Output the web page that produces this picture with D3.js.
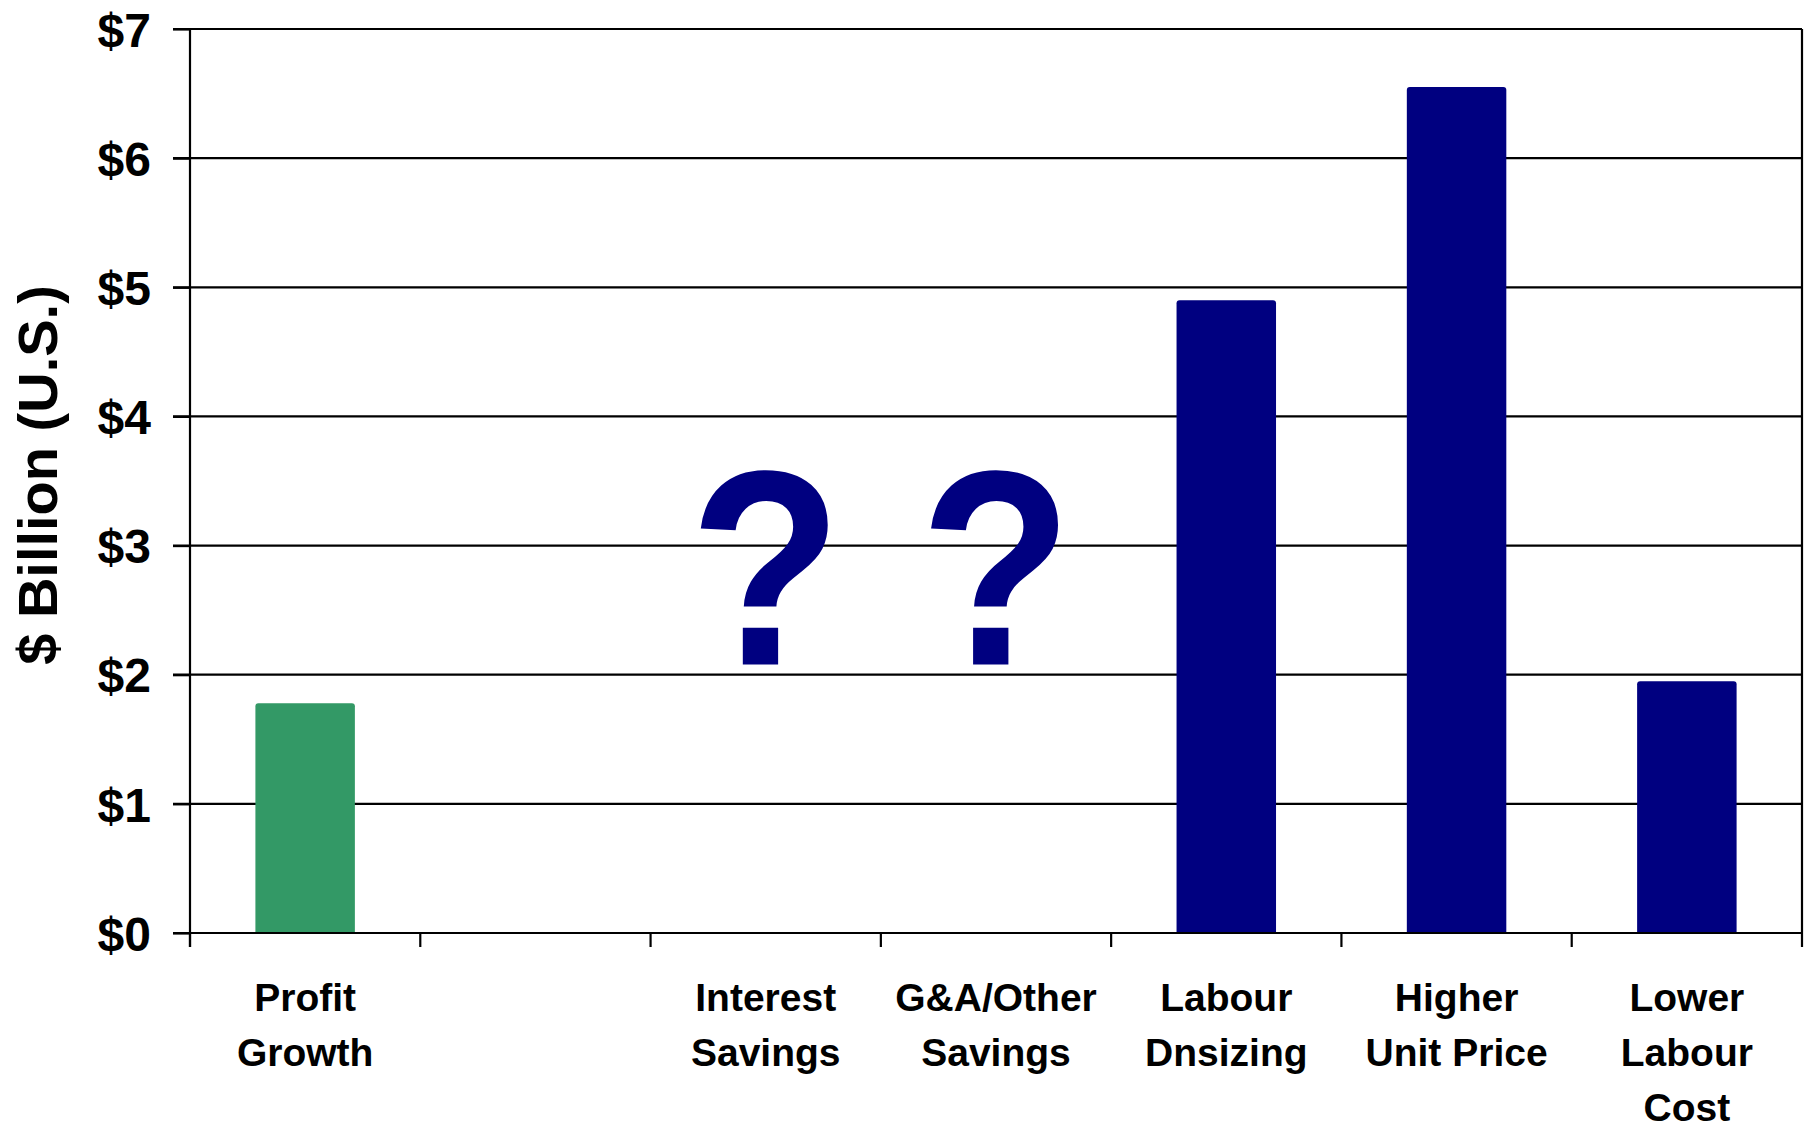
<!DOCTYPE html>
<html>
<head>
<meta charset="utf-8">
<script src="https://cdn.jsdelivr.net/npm/d3@7/dist/d3.min.js"></script>
<style>
  html, body { margin: 0; padding: 0; background: #ffffff; }
  svg { display: block; }
  text { font-family: "Liberation Sans", Arial, sans-serif; font-weight: bold; }
</style>
</head>
<body>
<script>
// ---- data ----
const categories = ["Profit Growth", "", "Interest Savings", "G&A/Other Savings", "Labour Dnsizing", "Higher Unit Price", "Lower Labour Cost"];
const labelLines = [["Profit", "Growth"], [], ["Interest", "Savings"], ["G&A/Other", "Savings"], ["Labour", "Dnsizing"], ["Higher", "Unit Price"], ["Lower", "Labour", "Cost"]];
const values = [1.78, null, null, null, 4.90, 6.55, 1.95];
const barColors = ["#339966", null, null, null, "#000080", "#000080", "#000080"];
const unknownCategories = ["Interest Savings", "G&A/Other Savings"];
const unknownLevel = 2.08;
const yTicks = [0, 1, 2, 3, 4, 5, 6, 7];
const yTickLabels = ["$0", "$1", "$2", "$3", "$4", "$5", "$6", "$7"];
const yTitle = "$ Billion (U.S.)";

// ---- layout ----
const W = 1806, H = 1125;
const mLeft = 190, mRight = 1802, mTop = 29, mBottom = 933;

const svg = d3.select("body").append("svg").attr("width", W).attr("height", H);

const x = d3.scaleBand().domain(categories).range([mLeft, mRight])
  .paddingInner(0.568).paddingOuter(0.284);
const y = d3.scaleLinear().domain([0, 7]).range([mBottom, mTop]);

// gridlines
svg.append("g").selectAll("line").data(yTicks).join("line")
  .attr("x1", mLeft - 17).attr("x2", mRight)
  .attr("y1", d => y(d)).attr("y2", d => y(d))
  .attr("stroke", "#000").attr("stroke-width", 2.2);

// y axis
const yAxis = svg.append("g").attr("transform", `translate(${mLeft},0)`)
  .call(d3.axisLeft(y).tickValues(yTicks).tickFormat((d, i) => yTickLabels[i]).tickSize(17).tickPadding(22));
yAxis.select(".domain").remove();
yAxis.selectAll(".tick line").attr("stroke", "#000").attr("stroke-width", 2.2);
yAxis.selectAll(".tick text").attr("font-size", 48).attr("fill", "#000")
  .attr("font-family", "'Liberation Sans', Arial, sans-serif").attr("font-weight", "bold")
  .attr("dy", "0.36em");

// left and right border lines
svg.append("line").attr("x1", mLeft).attr("x2", mLeft).attr("y1", mTop).attr("y2", mBottom + 14)
  .attr("stroke", "#000").attr("stroke-width", 2.2);
svg.append("line").attr("x1", mRight).attr("x2", mRight).attr("y1", mTop).attr("y2", mBottom + 14)
  .attr("stroke", "#000").attr("stroke-width", 2.2);

// bottom ticks at band boundaries
const boundaries = categories.map(c => x(c) - x.step() * x.paddingInner() / 2);
svg.append("g").selectAll("line").data(boundaries).join("line")
  .attr("x1", d => d).attr("x2", d => d).attr("y1", mBottom).attr("y2", mBottom + 14)
  .attr("stroke", "#000").attr("stroke-width", 2.2);

// bars
const barData = categories.map((c, i) => ({ c, v: values[i], col: barColors[i] })).filter(d => d.v != null);
svg.append("g").selectAll("path").data(barData).join("path")
  .attr("d", d => {
    const x0 = x(d.c), x1 = x(d.c) + x.bandwidth(), y0 = y(0), y1 = y(d.v), r = 3;
    return `M${x0},${y0}V${y1 + r}Q${x0},${y1} ${x0 + r},${y1}H${x1 - r}Q${x1},${y1} ${x1},${y1 + r}V${y0}Z`;
  })
  .attr("fill", d => d.col);

// redraw baseline on top of bars
svg.append("line").attr("x1", mLeft - 17).attr("x2", mRight).attr("y1", y(0)).attr("y2", y(0))
  .attr("stroke", "#000").attr("stroke-width", 2.2);

// question marks
svg.append("g").selectAll("text").data(unknownCategories).join("text")
  .attr("transform", d => `translate(${x(d) + x.bandwidth() / 2},${y(unknownLevel)}) scale(0.9,1)`)
  .attr("text-anchor", "middle")
  .attr("font-size", 278)
  .attr("fill", "#000080")
  .text("?");

// x labels
const xl = svg.append("g").selectAll("text").data(categories).join("text")
  .attr("text-anchor", "middle")
  .attr("font-size", 39)
  .attr("fill", "#000")
  .attr("transform", d => `translate(${x(d) + x.bandwidth() / 2},${mBottom + 78})`);
xl.selectAll("tspan").data((d, i) => labelLines[i]).join("tspan")
  .attr("x", 0).attr("y", (d, j) => j * 55).text(d => d);

// y title
svg.append("text")
  .attr("transform", `translate(57,${(mTop + mBottom) / 2 - 6}) rotate(-90)`)
  .attr("text-anchor", "middle")
  .attr("font-size", 56)
  .attr("fill", "#000")
  .text(yTitle);
</script>
</body>
</html>
